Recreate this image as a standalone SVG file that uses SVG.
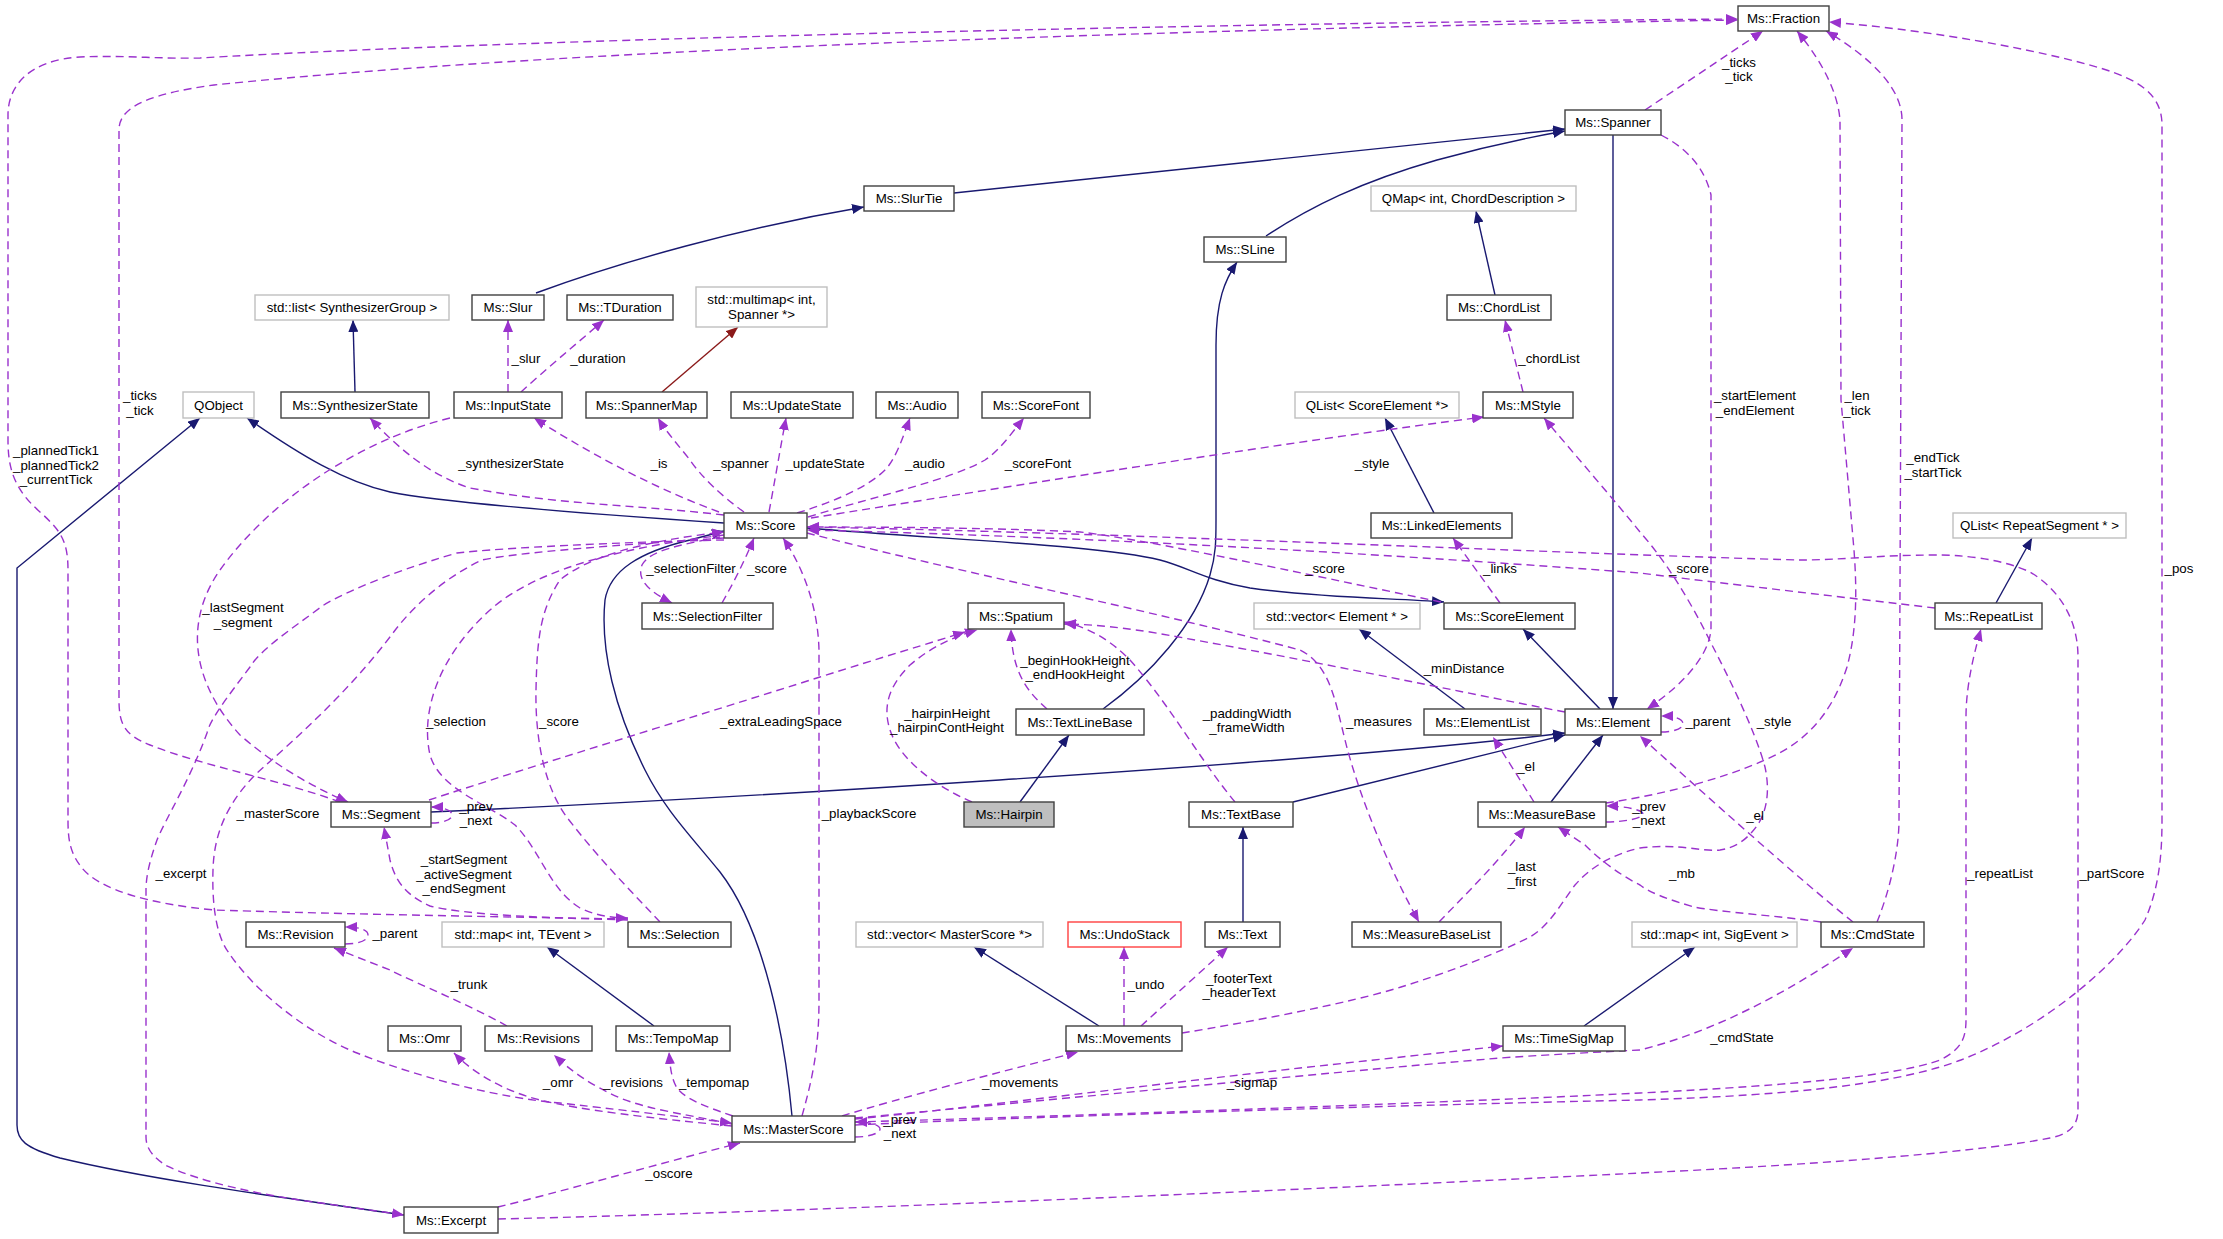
<svg xmlns="http://www.w3.org/2000/svg" width="2223" height="1239" viewBox="0 0 2223 1239">
<style>
.n rect{fill:#fff;stroke:#404040;stroke-width:1.4}
.g rect{fill:#fff;stroke:#bfbfbf;stroke-width:1.4}
.h rect{fill:#bfbfbf;stroke:#404040;stroke-width:1.4}
.r rect{fill:#fff;stroke:#ff4040;stroke-width:1.4}
text{font-family:"Liberation Sans",Arial,Helvetica,sans-serif;font-size:13.3px;fill:#000;text-anchor:middle}
.s{fill:none;stroke:#191970;stroke-width:1.4}
.f{fill:none;stroke:#8b1a1a;stroke-width:1.4}
.d{fill:none;stroke:#9a32cd;stroke-width:1.4;stroke-dasharray:8,5}
</style>
<defs>
<marker id="ab" viewBox="0 0 12 10" refX="12" refY="5" markerWidth="12" markerHeight="10" markerUnits="userSpaceOnUse" orient="auto"><path d="M0,0L12,5L0,10z" fill="#191970"/></marker>
<marker id="ap" viewBox="0 0 12 10" refX="12" refY="5" markerWidth="12" markerHeight="10" markerUnits="userSpaceOnUse" orient="auto"><path d="M0,0L12,5L0,10z" fill="#9a32cd"/></marker>
<marker id="ar" viewBox="0 0 12 10" refX="12" refY="5" markerWidth="12" markerHeight="10" markerUnits="userSpaceOnUse" orient="auto"><path d="M0,0L12,5L0,10z" fill="#8b1a1a"/></marker>
</defs>
<rect width="2223" height="1239" fill="#fff"/>
<g id="connectors">
<g marker-end="url(#ab)">
<path class="s" d="M954,193L1565,129"/>
<path class="s" d="M1266,236C1310,207 1360,182 1437,160C1480,148 1525,138 1565,131"/>
<path class="s" d="M536,293C620,262 740,228 864,207"/>
<path class="s" d="M1613,135L1613,709"/>
<path class="s" d="M1103,709C1150,675 1195,625 1210,575C1216,555 1216,540 1216,520L1216,345C1216,300 1225,280 1237,262"/>
<path class="s" d="M1020,802L1069,735"/>
<path class="s" d="M431,812C700,800 1300,765 1565,733"/>
<path class="s" d="M1293,802L1565,735"/>
<path class="s" d="M1551,802L1603,735"/>
<path class="s" d="M1465,709L1359,629"/>
<path class="s" d="M1600,709L1523,629"/>
<path class="s" d="M1434,513L1385,418"/>
<path class="s" d="M807,528C950,540 1100,545 1160,560C1190,568 1205,580 1250,588C1320,598 1390,598 1444,602"/>
<path class="s" d="M724,523C560,512 440,502 390,492C345,482 300,455 247,418"/>
<path class="s" d="M404,1215C300,1200 150,1180 60,1158C25,1148 17,1140 17,1125L17,568L200,418"/>
<path class="s" d="M792,1116C785,1040 765,930 720,872C690,835 665,810 645,770C615,710 600,650 605,600C610,570 640,552 690,540L724,531"/>
<path class="s" d="M355,392L353,320"/>
<path class="s" d="M1495,295L1476,211"/>
<path class="s" d="M1996,603L2032,538"/>
<path class="s" d="M1243,922L1243,827"/>
<path class="s" d="M654,1026L547,947"/>
<path class="s" d="M1099,1026L974,947"/>
<path class="s" d="M1584,1026L1695,947"/>
</g>
<path class="f" marker-end="url(#ar)" d="M662,392L738,327"/>
<g marker-end="url(#ap)">
<path class="d" d="M1645,110L1763,31"/>
<path class="d" d="M628,919C500,917 300,913 214,910C150,904 100,890 82,868C70,853 68,840 68,820L68,570C68,540 60,530 40,512C15,490 8,470 8,440L8,115C8,85 30,60 80,57C120,55 160,59 200,58C500,40 1200,23 1738,19"/>
<path class="d" d="M340,802C280,780 200,765 150,745C125,735 119,725 119,700L119,130C119,110 140,95 214,85C600,45 1300,27 1738,20"/>
<path class="d" d="M1606,803C1660,795 1720,780 1765,760C1800,745 1830,720 1847,667C1857,630 1857,590 1854,550L1841,400L1840,120C1838,95 1825,65 1797,31"/>
<path class="d" d="M1877,922C1890,890 1899,850 1899,820L1902,120C1902,90 1875,60 1826,31"/>
<path class="d" d="M855,1125C1000,1118 1400,1105 1640,1100C1800,1095 1900,1083 1961,1060C2050,1025 2120,960 2145,920C2158,890 2162,860 2162,820L2162,125C2162,95 2140,80 2100,68C2040,50 1930,30 1829,22"/>
<path class="d" d="M855,1122C1000,1118 1400,1105 1640,1093C1800,1085 1900,1075 1940,1060C1960,1050 1966,1040 1966,1020L1966,717C1966,690 1972,660 1981,629"/>
<path class="d" d="M855,1118C1000,1105 1300,1075 1500,1058C1560,1054 1600,1052 1640,1050C1720,1030 1790,990 1853,948"/>
<path class="d" d="M855,1119C950,1110 1150,1085 1300,1068L1503,1046"/>
<path class="d" d="M842,1116C900,1098 1000,1072 1078,1052"/>
<path class="d" d="M855,1137C870,1137 880,1133 880,1129C880,1125 870,1122 855,1122"/>
<path class="d" d="M498,1207C560,1192 650,1166 740,1143"/>
<path class="d" d="M498,1219C800,1212 1300,1190 1640,1173C1850,1163 1990,1150 2050,1138C2070,1134 2078,1125 2078,1110L2078,657C2078,620 2060,590 2030,572C2000,558 1960,555 1936,555C1880,555 1840,560 1800,560C1600,555 1100,532 807,527"/>
<path class="d" d="M1935,608C1850,598 1720,583 1640,573C1400,555 1100,537 807,530"/>
<path class="d" d="M1441,602C1300,573 1150,540 1080,532C1000,528 900,527 807,527"/>
<path class="d" d="M811,518C1000,488 1300,440 1484,417"/>
<path class="d" d="M808,517C880,495 950,480 985,460C1000,450 1010,435 1024,418"/>
<path class="d" d="M797,513C840,500 870,485 885,470C895,460 902,440 910,418"/>
<path class="d" d="M769,512C775,480 780,450 786,418"/>
<path class="d" d="M744,512C720,495 700,475 690,460C678,445 665,430 658,418"/>
<path class="d" d="M719,512C660,490 600,460 534,418"/>
<path class="d" d="M724,515C640,505 560,505 470,488C430,475 400,450 370,418"/>
<path class="d" d="M720,537C680,545 650,550 642,565C636,580 650,592 672,603"/>
<path class="d" d="M722,603C735,580 745,560 754,538"/>
<path class="d" d="M802,1116C812,1080 819,1050 819,1000L819,650C818,610 805,570 783,538"/>
<path class="d" d="M807,533C950,570 1150,610 1300,650C1330,665 1335,700 1345,740C1360,800 1390,870 1419,922"/>
<path class="d" d="M1565,712C1450,690 1300,658 1150,632C1110,626 1085,624 1064,624"/>
<path class="d" d="M1235,802C1200,760 1170,705 1130,660C1110,640 1090,628 1064,622"/>
<path class="d" d="M1047,709C1025,690 1012,670 1011,629"/>
<path class="d" d="M972,802C935,786 900,760 890,730C882,705 890,685 910,665C930,648 950,638 977,630"/>
<path class="d" d="M429,800C520,770 700,715 820,677C880,658 930,643 965,632"/>
<path class="d" d="M450,418C360,440 270,500 220,570C185,620 190,680 240,735C280,770 320,790 348,802"/>
<path class="d" d="M431,823C445,823 452,819 452,815C452,811 445,807 431,807"/>
<path class="d" d="M628,920C560,918 470,916 430,906C405,895 395,880 390,860L384,827"/>
<path class="d" d="M724,535C640,545 540,565 490,610C440,655 420,710 430,755C440,790 490,805 515,825C540,850 550,890 580,908C595,915 610,918 628,918"/>
<path class="d" d="M660,922C630,890 600,860 569,820C545,790 535,740 536,690C537,640 540,610 560,580C590,555 650,540 724,532"/>
<path class="d" d="M724,538C620,545 520,552 482,560C440,580 410,610 393,633C350,690 300,735 257,773C230,800 214,830 213,870C212,900 215,935 229,953C250,985 300,1030 357,1053C420,1078 500,1098 560,1103C640,1112 690,1118 732,1123"/>
<path class="d" d="M724,540C620,542 500,548 457,553C380,575 330,600 321,607C290,630 260,650 250,667C225,700 210,720 207,733C190,780 165,820 157,840C148,865 146,880 146,890L146,1137C146,1150 155,1158 165,1165C200,1182 260,1195 321,1203L404,1215"/>
<path class="d" d="M507,1026C470,1005 420,985 390,970L334,948"/>
<path class="d" d="M345,944C360,944 368,940 368,935C368,930 360,927 345,927"/>
<path class="d" d="M732,1126C650,1118 580,1110 540,1100C500,1090 470,1070 454,1053"/>
<path class="d" d="M732,1124C690,1115 650,1110 620,1098C590,1085 570,1070 554,1055"/>
<path class="d" d="M733,1116C700,1105 685,1098 677,1088C671,1078 670,1065 669,1052"/>
<path class="d" d="M1124,1026L1124,947"/>
<path class="d" d="M1141,1026L1228,947"/>
<path class="d" d="M1182,1033C1250,1022 1350,1003 1401,987C1450,972 1500,952 1530,937C1550,925 1560,905 1575,885C1590,868 1610,855 1640,848C1680,843 1700,852 1720,850C1735,848 1745,840 1752,832C1768,815 1770,790 1765,767C1755,730 1730,680 1711,643C1690,600 1665,560 1640,532C1610,495 1575,455 1544,418"/>
<path class="d" d="M1853,922C1800,880 1700,790 1640,736"/>
<path class="d" d="M1821,922C1780,916 1720,912 1694,907C1670,900 1650,893 1640,885C1620,875 1600,860 1585,845L1558,827"/>
<path class="d" d="M1439,922C1470,890 1500,860 1525,827"/>
<path class="d" d="M1534,802L1493,737"/>
<path class="d" d="M1606,822C1625,822 1643,818 1643,814C1643,810 1625,806 1606,806"/>
<path class="d" d="M1661,732C1675,732 1683,728 1683,724C1683,719 1675,716 1661,716"/>
<path class="d" d="M1500,603L1453,538"/>
<path class="d" d="M1661,135C1690,150 1705,170 1711,195L1711,627C1711,650 1690,680 1647,709"/>
<path class="d" d="M1523,392L1505,320"/>
<path class="d" d="M508,392L508,320"/>
<path class="d" d="M521,392C545,370 575,345 604,320"/>
</g>
<g id="edge-labels">
<text x="1739" y="67">_ticks</text><text x="1739" y="81">_tick</text>
<text x="140" y="400">_ticks</text><text x="140" y="415">_tick</text>
<text x="56" y="455">_plannedTick1</text><text x="56" y="470">_plannedTick2</text><text x="56" y="484">_currentTick</text>
<text x="1755" y="400">_startElement</text><text x="1755" y="415">_endElement</text>
<text x="1857" y="400">_len</text><text x="1857" y="415">_tick</text>
<text x="1933" y="462">_endTick</text><text x="1933" y="477">_startTick</text>
<text x="2179" y="573">_pos</text>
<text x="1549" y="363">_chordList</text>
<text x="526" y="363">_slur</text>
<text x="598" y="363">_duration</text>
<text x="511" y="468">_synthesizerState</text>
<text x="659" y="468">_is</text>
<text x="741" y="468">_spanner</text>
<text x="825" y="468">_updateState</text>
<text x="925" y="468">_audio</text>
<text x="1038" y="468">_scoreFont</text>
<text x="1372" y="468">_style</text>
<text x="243" y="612">_lastSegment</text><text x="243" y="627">_segment</text>
<text x="691" y="573">_selectionFilter</text>
<text x="767" y="573">_score</text>
<text x="1325" y="573">_score</text>
<text x="1500" y="573">_links</text>
<text x="1689" y="573">_score</text>
<text x="1075" y="665">_beginHookHeight</text><text x="1075" y="679">_endHookHeight</text>
<text x="1464" y="673">_minDistance</text>
<text x="947" y="718">_hairpinHeight</text><text x="947" y="732">_hairpinContHeight</text>
<text x="1247" y="718">_paddingWidth</text><text x="1247" y="732">_frameWidth</text>
<text x="456" y="726">_selection</text>
<text x="559" y="726">_score</text>
<text x="781" y="726">_extraLeadingSpace</text>
<text x="1379" y="726">_measures</text>
<text x="1708" y="726">_parent</text>
<text x="1774" y="726">_style</text>
<text x="1526" y="771">_el</text>
<text x="1755" y="820">_el</text>
<text x="1649" y="811">_prev</text><text x="1649" y="825">_next</text>
<text x="278" y="818">_masterScore</text>
<text x="869" y="818">_playbackScore</text>
<text x="476" y="811">_prev</text><text x="476" y="825">_next</text>
<text x="464" y="864">_startSegment</text><text x="464" y="879">_activeSegment</text><text x="464" y="893">_endSegment</text>
<text x="181" y="878">_excerpt</text>
<text x="1522" y="871">_last</text><text x="1522" y="886">_first</text>
<text x="1682" y="878">_mb</text>
<text x="2000" y="878">_repeatList</text>
<text x="2112" y="878">_partScore</text>
<text x="395" y="938">_parent</text>
<text x="469" y="989">_trunk</text>
<text x="1146" y="989">_undo</text>
<text x="1239" y="983">_footerText</text><text x="1239" y="997">_headerText</text>
<text x="1742" y="1042">_cmdState</text>
<text x="558" y="1087">_omr</text>
<text x="633" y="1087">_revisions</text>
<text x="714" y="1087">_tempomap</text>
<text x="1020" y="1087">_movements</text>
<text x="1252" y="1087">_sigmap</text>
<text x="900" y="1124">_prev</text><text x="900" y="1138">_next</text>
<text x="669" y="1178">_oscore</text>
</g>
</g>
<g id="nodes">
<g id="Fraction" class="n"><rect x="1738" y="6" width="91" height="25"/><text x="1783.5" y="23">Ms::Fraction</text></g>
<g id="Spanner" class="n"><rect x="1565" y="110" width="96" height="25"/><text x="1613" y="127">Ms::Spanner</text></g>
<g id="SLine" class="n"><rect x="1204" y="237" width="82" height="25"/><text x="1245" y="254">Ms::SLine</text></g>
<g id="QMapChord" class="g"><rect x="1371" y="186" width="205" height="25"/><text x="1473.5" y="203">QMap&lt; int, ChordDescription &gt;</text></g>
<g id="ChordList" class="n"><rect x="1447" y="295" width="104" height="25"/><text x="1499" y="312">Ms::ChordList</text></g>
<g id="QListScoreElement" class="g"><rect x="1295" y="392" width="164" height="26"/><text x="1377" y="409.5">QList&lt; ScoreElement *&gt;</text></g>
<g id="MStyle" class="n"><rect x="1483" y="392" width="90" height="26"/><text x="1528" y="409.5">Ms::MStyle</text></g>
<g id="SlurTie" class="n"><rect x="864" y="186" width="90" height="25"/><text x="909" y="203">Ms::SlurTie</text></g>
<g id="TDuration" class="n"><rect x="567" y="295" width="106" height="25"/><text x="620" y="312">Ms::TDuration</text></g>
<g id="multimap" class="g"><rect x="696" y="287" width="131" height="40"/><text x="761.5" y="303.5">std::multimap&lt; int,</text><text x="761.5" y="318.5">Spanner *&gt;</text></g>
<g id="SpannerMap" class="n"><rect x="586" y="392" width="121" height="26"/><text x="646.5" y="409.5">Ms::SpannerMap</text></g>
<g id="UpdateState" class="n"><rect x="731" y="392" width="122" height="26"/><text x="792" y="409.5">Ms::UpdateState</text></g>
<g id="Audio" class="n"><rect x="876" y="392" width="82" height="26"/><text x="917" y="409.5">Ms::Audio</text></g>
<g id="ScoreFont" class="n"><rect x="982" y="392" width="108" height="26"/><text x="1036" y="409.5">Ms::ScoreFont</text></g>
<g id="listSynth" class="g"><rect x="255" y="295" width="194" height="25"/><text x="352" y="312">std::list&lt; SynthesizerGroup &gt;</text></g>
<g id="Slur" class="n"><rect x="472" y="295" width="72" height="25"/><text x="508" y="312">Ms::Slur</text></g>
<g id="QObject" class="g"><rect x="183" y="392" width="71" height="26"/><text x="218.5" y="409.5">QObject</text></g>
<g id="SynthesizerState" class="n"><rect x="281" y="392" width="148" height="26"/><text x="355" y="409.5">Ms::SynthesizerState</text></g>
<g id="InputState" class="n"><rect x="454" y="392" width="108" height="26"/><text x="508" y="409.5">Ms::InputState</text></g>
<g id="Score" class="n"><rect x="724" y="513" width="83" height="25"/><text x="765.5" y="530">Ms::Score</text></g>
<g id="SelectionFilter" class="n"><rect x="642" y="603" width="131" height="26"/><text x="707.5" y="620.5">Ms::SelectionFilter</text></g>
<g id="Spatium" class="n"><rect x="968" y="603" width="96" height="26"/><text x="1016" y="620.5">Ms::Spatium</text></g>
<g id="TextLineBase" class="n"><rect x="1016" y="709" width="128" height="26"/><text x="1080" y="726.5">Ms::TextLineBase</text></g>
<g id="Hairpin" class="h"><rect x="964" y="802" width="90" height="25"/><text x="1009" y="819">Ms::Hairpin</text></g>
<g id="LinkedElements" class="n"><rect x="1371" y="513" width="141" height="25"/><text x="1441.5" y="530">Ms::LinkedElements</text></g>
<g id="vectorElement" class="g"><rect x="1254" y="603" width="166" height="26"/><text x="1337" y="620.5">std::vector&lt; Element * &gt;</text></g>
<g id="ScoreElement" class="n"><rect x="1444" y="603" width="131" height="26"/><text x="1509.5" y="620.5">Ms::ScoreElement</text></g>
<g id="ElementList" class="n"><rect x="1424" y="709" width="117" height="26"/><text x="1482.5" y="726.5">Ms::ElementList</text></g>
<g id="Element" class="n"><rect x="1565" y="709" width="96" height="26"/><text x="1613" y="726.5">Ms::Element</text></g>
<g id="TextBase" class="n"><rect x="1189" y="802" width="104" height="25"/><text x="1241" y="819">Ms::TextBase</text></g>
<g id="MeasureBase" class="n"><rect x="1478" y="802" width="128" height="25"/><text x="1542" y="819">Ms::MeasureBase</text></g>
<g id="QListRepeatSegment" class="g"><rect x="1953" y="513" width="173" height="25"/><text x="2039.5" y="530">QList&lt; RepeatSegment * &gt;</text></g>
<g id="RepeatList" class="n"><rect x="1935" y="603" width="107" height="26"/><text x="1988.5" y="620.5">Ms::RepeatList</text></g>
<g id="Segment" class="n"><rect x="331" y="802" width="100" height="25"/><text x="381" y="819">Ms::Segment</text></g>
<g id="Revision" class="n"><rect x="246" y="922" width="99" height="25"/><text x="295.5" y="939">Ms::Revision</text></g>
<g id="mapTEvent" class="g"><rect x="442" y="922" width="162" height="25"/><text x="523" y="939">std::map&lt; int, TEvent &gt;</text></g>
<g id="Omr" class="n"><rect x="388" y="1026" width="73" height="25"/><text x="424.5" y="1043">Ms::Omr</text></g>
<g id="Revisions" class="n"><rect x="485" y="1026" width="107" height="25"/><text x="538.5" y="1043">Ms::Revisions</text></g>
<g id="Excerpt" class="n"><rect x="404" y="1207" width="94" height="26"/><text x="451" y="1224.5">Ms::Excerpt</text></g>
<g id="Selection" class="n"><rect x="628" y="922" width="103" height="25"/><text x="679.5" y="939">Ms::Selection</text></g>
<g id="TempoMap" class="n"><rect x="616" y="1026" width="114" height="25"/><text x="673" y="1043">Ms::TempoMap</text></g>
<g id="MasterScore" class="n"><rect x="732" y="1116" width="123" height="26"/><text x="793.5" y="1133.5">Ms::MasterScore</text></g>
<g id="vectorMasterScore" class="g"><rect x="856" y="922" width="187" height="25"/><text x="949.5" y="939">std::vector&lt; MasterScore *&gt;</text></g>
<g id="UndoStack" class="r"><rect x="1068" y="922" width="113" height="25"/><text x="1124.5" y="939">Ms::UndoStack</text></g>
<g id="Movements" class="n"><rect x="1066" y="1026" width="116" height="25"/><text x="1124" y="1043">Ms::Movements</text></g>
<g id="Text" class="n"><rect x="1205" y="922" width="75" height="25"/><text x="1242.5" y="939">Ms::Text</text></g>
<g id="MeasureBaseList" class="n"><rect x="1352" y="922" width="149" height="25"/><text x="1426.5" y="939">Ms::MeasureBaseList</text></g>
<g id="TimeSigMap" class="n"><rect x="1503" y="1026" width="122" height="25"/><text x="1564" y="1043">Ms::TimeSigMap</text></g>
<g id="mapSigEvent" class="g"><rect x="1632" y="922" width="165" height="25"/><text x="1714.5" y="939">std::map&lt; int, SigEvent &gt;</text></g>
<g id="CmdState" class="n"><rect x="1821" y="922" width="103" height="25"/><text x="1872.5" y="939">Ms::CmdState</text></g>
</g>
</svg>
